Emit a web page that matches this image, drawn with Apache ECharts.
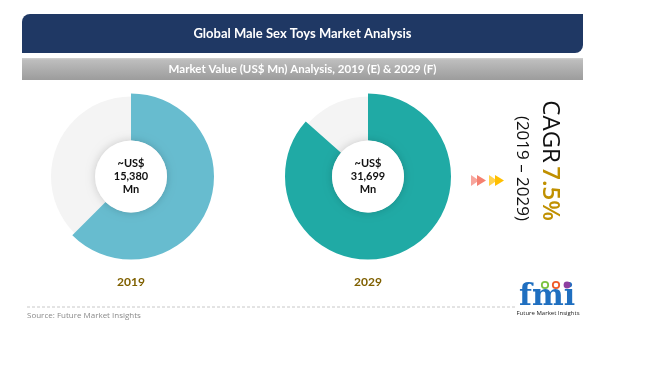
<!DOCTYPE html>
<html>
<head>
<meta charset="utf-8">
<script src="https://cdn.jsdelivr.net/npm/echarts@6/dist/echarts.min.js"></script>
<style>
html,body{margin:0;padding:0;background:#fff;}
#chart{width:650px;height:366px;}
</style>
</head>
<body>
<div id="chart"></div>
<script>
// ---- data ----
const title = 'Global Male Sex Toys Market Analysis';
const subtitle = 'Market Value (US$ Mn) Analysis, 2019 (E) & 2029 (F)';
const years = ['2019', '2029'];
const marketValues = [15380, 31699];           // US$ Mn
const ringFillPct = [62.5, 86.5];              // share of ring that is filled
const cagrValue = '7.5%';
const cagrPeriod = '(2019 \u2013 2029)';
const sourceText = 'Source: Future Market Insights';

// ---- styling ----
const ringColors = ['#67bccf', '#20aaa5'];
const centers = [[131, 176.5], [368, 176.5]];
const font = 'Lato, "Open Sans", sans-serif';
const font2 = '"Open Sans", "Noto Sans", sans-serif';

const chart = echarts.init(document.getElementById('chart'), null, {renderer: 'canvas'});

const series = [];
years.forEach((y, i) => {
  series.push({
    type: 'pie', silent: true, center: centers[i], radius: [36, 80],
    label: {show: false}, labelLine: {show: false},
    data: [{value: 100, itemStyle: {color: '#f4f4f4'}}], z: 1
  });
  series.push({
    type: 'pie', silent: true, center: centers[i], radius: [36, 83],
    startAngle: 90, clockwise: true,
    label: {show: false}, labelLine: {show: false},
    data: [
      {value: ringFillPct[i], itemStyle: {color: ringColors[i]}},
      {value: 100 - ringFillPct[i], itemStyle: {color: 'rgba(0,0,0,0)'}}
    ], z: 2
  });
  series.push({
    type: 'pie', silent: true, center: centers[i], radius: [0, 36],
    data: [{value: 1, itemStyle: {color: '#ffffff', shadowBlur: 8, shadowColor: 'rgba(0,0,0,0.18)'}}],
    label: {
      show: true, position: 'center',
      formatter: '~US$\n' + marketValues[i].toLocaleString('en-US') + '\nMn',
      color: '#111', fontFamily: font, fontWeight: 'bold', fontSize: 11, lineHeight: 13
    },
    labelLine: {show: false}, z: 3
  });
});

const graphic = [
  {type: 'rect', shape: {x: 22, y: 14, width: 561, height: 39, r: [8, 0, 8, 0]},
   style: {fill: '#1f3864'}},
  {type: 'text', x: 302.5, y: 34,
   style: {text: title, fill: '#fff', font: 'bold 13px ' + font, textAlign: 'center', textVerticalAlign: 'middle'}},
  {type: 'rect', shape: {x: 22, y: 58, width: 561, height: 22},
   style: {fill: new echarts.graphic.LinearGradient(0, 0, 0, 1, [
     {offset: 0, color: '#d2d2d2'}, {offset: 0.1, color: '#bdbdbd'}, {offset: 1, color: '#9c9c9c'}])}},
  {type: 'text', x: 302.5, y: 69.5,
   style: {text: subtitle, fill: '#fff', font: 'bold 11.5px ' + font, textAlign: 'center', textVerticalAlign: 'middle'}},
  {type: 'text', x: centers[0][0], y: 282,
   style: {text: years[0], fill: '#7f6000', font: 'bold 12px ' + font, textAlign: 'center', textVerticalAlign: 'middle'}},
  {type: 'text', x: centers[1][0], y: 282,
   style: {text: years[1], fill: '#7f6000', font: 'bold 12px ' + font, textAlign: 'center', textVerticalAlign: 'middle'}},
  {type: 'polygon', shape: {points: [[471, 175], [479, 180.5], [471, 186]]}, style: {fill: '#f7a59c'}},
  {type: 'polygon', shape: {points: [[477, 175], [486, 180.5], [477, 186]]}, style: {fill: '#f58070'}},
  {type: 'polygon', shape: {points: [[489, 175], [497, 180.5], [489, 186]]}, style: {fill: '#ffd24d'}},
  {type: 'polygon', shape: {points: [[495, 175], [504, 180.5], [495, 186]]}, style: {fill: '#ffbf00'}},
  {type: 'text', x: 550, y: 221, rotation: -Math.PI / 2,
   style: {
     text: '{a|CAGR} {b|' + cagrValue + '}', textAlign: 'right', textVerticalAlign: 'middle',
     rich: {
       a: {fontSize: 24, fontFamily: font2, fill: '#111', color: '#111'},
       b: {fontSize: 24, fontFamily: font2, fontWeight: 600, fill: '#c09000', color: '#c09000'}
     }
   }},
  {type: 'text', x: 522, y: 221, rotation: -Math.PI / 2,
   style: {text: cagrPeriod, fill: '#111', font: '17px ' + font2, textAlign: 'right', textVerticalAlign: 'middle'}},
  {type: 'line', shape: {x1: 27, y1: 307, x2: 515, y2: 307},
   style: {stroke: '#c8c8c8', lineWidth: 1, lineDash: [3, 2]}},
  {type: 'text', x: 27, y: 316,
   style: {text: sourceText, fill: '#8a8a8a', font: '8px ' + font2, textVerticalAlign: 'middle'}},
  {type: 'text', x: 547, y: 297,
   style: {text: 'fmi', fill: '#1f6fc0', font: 'bold 30px "DejaVu Serif", serif', textAlign: 'center', textVerticalAlign: 'middle'}},
  {type: 'circle', shape: {cx: 545, cy: 285, r: 3.2}, style: {fill: '#fff', stroke: '#7cc242', lineWidth: 1.8}},
  {type: 'circle', shape: {cx: 556, cy: 285, r: 3.2}, style: {fill: '#fff', stroke: '#f05a28', lineWidth: 1.8}},
  {type: 'circle', shape: {cx: 567, cy: 285, r: 3.4}, style: {fill: '#8e3fa0'}},
  {type: 'text', x: 548, y: 313,
   style: {text: 'Future Market Insights', fill: '#222', font: '6px ' + font2, textAlign: 'center', textVerticalAlign: 'middle'}}
];

chart.setOption({
  animation: false,
  backgroundColor: '#ffffff',
  series: series,
  graphic: graphic
});
</script>
</body>
</html>
